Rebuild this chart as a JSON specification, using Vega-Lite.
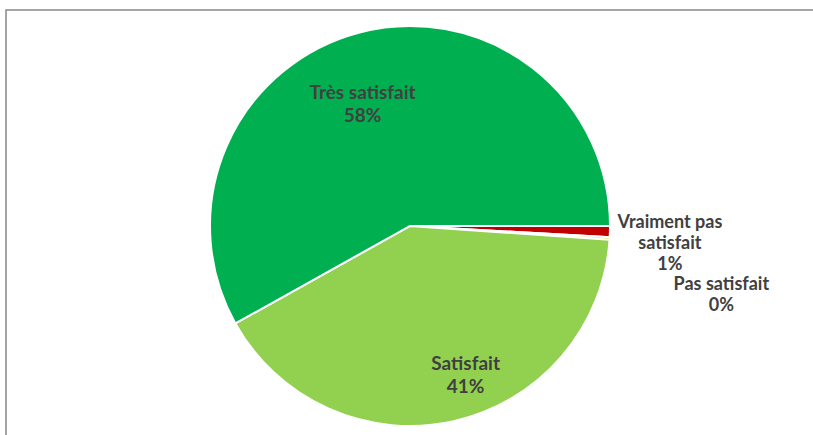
{
  "$schema": "https://vega.github.io/schema/vega-lite/v6.json",
  "width": 808,
  "height": 432,
  "autosize": {"type": "none"},
  "padding": {"left": 6, "top": 10, "right": 10, "bottom": -7},
  "background": "white",
  "view": {"stroke": "#888888", "strokeWidth": 1.5},
  "config": {"view": {"stroke": "#888888", "strokeWidth": 1.5}, "text": {"font": "Lato"}},
  "data": {"values": [
    {"category": "Vraiment pas satisfait", "value": 0.9, "rank": 1, "label": "Vraiment pas\nsatisfait\n1%"},
    {"category": "Pas satisfait", "value": 0.2, "rank": 2, "label": "Pas satisfait\n0%"},
    {"category": "Satisfait", "value": 40.8, "rank": 3, "label": "Satisfait\n41%"},
    {"category": "Très satisfait", "value": 58.1, "rank": 4, "label": "Très satisfait\n58%"}
  ]},
  "layer": [
    {
      "mark": {"type": "arc", "outerRadius": 200, "stroke": "white", "strokeWidth": 2},
      "encoding": {
        "theta": {"field": "value", "type": "quantitative", "stack": true, "scale": {"range": [1.5708, 7.854]}},
        "order": {"field": "rank"},
        "color": {"field": "category", "type": "nominal", "legend": null,
          "scale": {"domain": ["Vraiment pas satisfait", "Pas satisfait", "Satisfait", "Très satisfait"],
                    "range": ["#C00000", "#FFC000", "#92D050", "#00B050"]}}
      }
    },
    {
      "mark": {"type": "text", "radius": 145, "dx": -11, "dy": 7, "fontSize": 19, "fontWeight": "bold", "fill": "#404040", "lineBreak": "\n", "lineHeight": 23, "align": "center", "baseline": "middle"},
      "encoding": {
        "theta": {"field": "value", "type": "quantitative", "stack": true},
        "order": {"field": "rank"},
        "detail": {"field": "category"},
        "text": {"condition": {"test": "datum.category === 'Très satisfait'", "field": "label"}, "value": ""}
      }
    },
    {
      "mark": {"type": "text", "radius": 145, "dx": 24, "dy": -4, "fontSize": 19, "fontWeight": "bold", "fill": "#404040", "lineBreak": "\n", "lineHeight": 23, "align": "center", "baseline": "middle"},
      "encoding": {
        "theta": {"field": "value", "type": "quantitative", "stack": true},
        "order": {"field": "rank"},
        "detail": {"field": "category"},
        "text": {"condition": {"test": "datum.category === 'Satisfait'", "field": "label"}, "value": ""}
      }
    },
    {
      "mark": {"type": "text", "radius": 260, "dy": -10, "fontSize": 18, "fontWeight": "bold", "fill": "#404040", "lineBreak": "\n", "lineHeight": 21, "align": "center", "baseline": "middle"},
      "encoding": {
        "theta": {"field": "value", "type": "quantitative", "stack": true},
        "order": {"field": "rank"},
        "detail": {"field": "category"},
        "text": {"condition": {"test": "datum.category === 'Vraiment pas satisfait'", "field": "label"}, "value": ""}
      }
    },
    {
      "mark": {"type": "text", "radius": 318, "dx": -6, "dy": 39, "fontSize": 18, "fontWeight": "bold", "fill": "#404040", "lineBreak": "\n", "lineHeight": 21, "align": "center", "baseline": "middle"},
      "encoding": {
        "theta": {"field": "value", "type": "quantitative", "stack": true},
        "order": {"field": "rank"},
        "detail": {"field": "category"},
        "text": {"condition": {"test": "datum.category === 'Pas satisfait'", "field": "label"}, "value": ""}
      }
    }
  ]
}
